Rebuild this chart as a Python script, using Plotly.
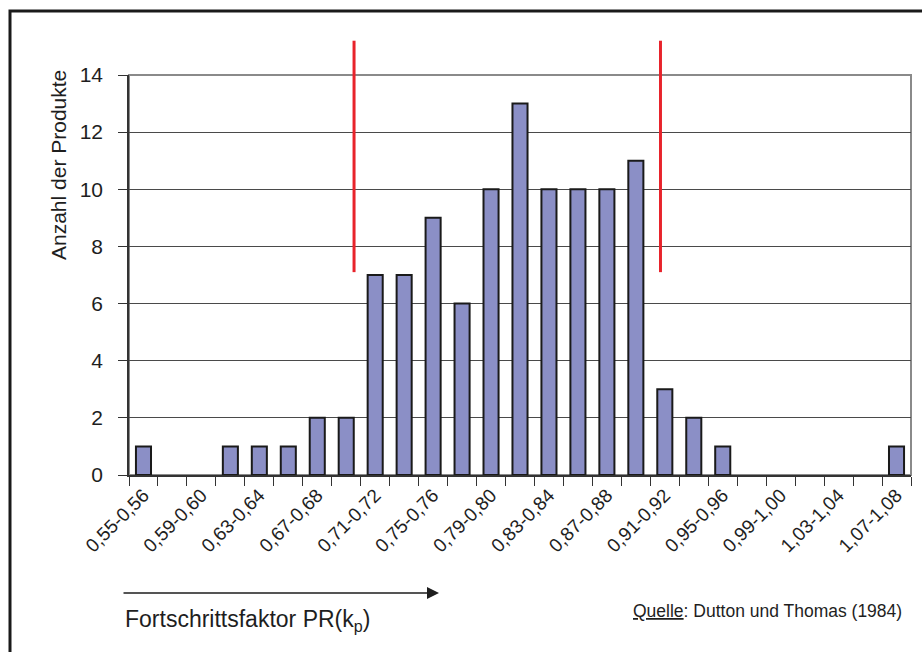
import plotly.graph_objects as go

categories = ["0,55-0,56", "0,57-0,58", "0,59-0,60", "0,61-0,62", "0,63-0,64", "0,65-0,66",
              "0,67-0,68", "0,69-0,70", "0,71-0,72", "0,73-0,74", "0,75-0,76", "0,77-0,78",
              "0,79-0,80", "0,81-0,82", "0,83-0,84", "0,85-0,86", "0,87-0,88", "0,89-0,90",
              "0,91-0,92", "0,93-0,94", "0,95-0,96", "0,97-0,98", "0,99-1,00", "1,01-1,02",
              "1,03-1,04", "1,05-1,06", "1,07-1,08"]
counts = [1, 0, 0, 1, 1, 1, 2, 2, 7, 7, 9, 6, 10, 13, 10, 10, 10, 11, 3, 2, 1, 0, 0, 0, 0, 0, 1]
tick_labels = [c if i % 2 == 0 else "" for i, c in enumerate(categories)]
y_ticks = [0, 2, 4, 6, 8, 10, 12, 14]
# red marker lines, in category units (bar centres at 0..26), and their vertical extent
red_lines_x = [7.27, 17.85]
red_lines_y = [7.1, 15.2]

W, H = 922, 652
ML, MR, MT, MB = 129, 11, 75, 177
PW, PH = W - ML - MR, H - MT - MB
YMAX = 14
n = len(categories)


def px_x(px):  # window pixel -> paper x
    return (px - ML) / PW


def px_y(py):  # window pixel -> paper y
    return (H - MB - py) / PH


def cat_to_paper(x):
    return (x + 0.5) / n


FONT = "Liberation Sans, Arial, sans-serif"
TXT = "#1e1e1e"

fig = go.Figure()
fig.add_trace(go.Bar(
    x=categories, y=counts, width=0.52,
    marker=dict(color="#8B8FC6",
                line=dict(color="#1a1a1a", width=[2 if v > 0 else 0 for v in counts])),
    hoverinfo="x+y",
))

shapes = []
# plot-area frame (top/right grey)
shapes.append(dict(type="rect", xref="paper", yref="paper", x0=0, x1=1, y0=0, y1=1,
                   line=dict(color="#8a8a8a", width=2), layer="below"))
# outer frame (left/top visible; right/bottom cropped)
shapes.append(dict(type="rect", xref="paper", yref="paper",
                   x0=px_x(10), x1=px_x(960), y0=px_y(690), y1=px_y(11),
                   line=dict(color="#1a1a1a", width=3), layer="above"))
for xv in red_lines_x:
    xp = cat_to_paper(xv)
    shapes.append(dict(type="line", xref="paper", yref="paper",
                       x0=xp, x1=xp, y0=red_lines_y[0] / YMAX, y1=red_lines_y[1] / YMAX,
                       line=dict(color="#E8232B", width=3), layer="above"))

annotations = [
    dict(xref="paper", yref="paper", x=px_x(58), y=px_y(165), text="Anzahl der Produkte",
         textangle=-90, showarrow=False, font=dict(family=FONT, size=21, color=TXT),
         xanchor="center", yanchor="middle"),
    dict(xref="paper", yref="paper", x=px_x(439), y=px_y(593), ax=-317, ay=0,
         axref="pixel", ayref="pixel", text="", showarrow=True, arrowhead=2,
         arrowsize=1.6, arrowwidth=1.5, arrowcolor="#1e1e1e"),
    dict(xref="paper", yref="paper", x=px_x(123), y=px_y(620),
         text="Fortschrittsfaktor PR(k<sub>p</sub>)", showarrow=False,
         font=dict(family=FONT, size=23, color=TXT), xanchor="left", yanchor="middle"),
    dict(xref="paper", yref="paper", x=px_x(904), y=px_y(611),
         text="<u>Quelle</u>: Dutton und Thomas (1984)", showarrow=False,
         font=dict(family=FONT, size=17.5, color=TXT), xanchor="right", yanchor="middle"),
]

fig.update_layout(
    width=W, height=H,
    margin=dict(l=ML, r=MR, t=MT, b=MB, pad=0),
    paper_bgcolor="white", plot_bgcolor="white",
    showlegend=False,
    shapes=shapes, annotations=annotations,
    font=dict(family=FONT, color=TXT),
    xaxis=dict(
        type="category", categoryorder="array", categoryarray=categories,
        range=[-0.5, n - 0.5],
        tickmode="array", tickvals=categories, ticktext=tick_labels,
        tickangle=-45, tickson="boundaries", ticks="outside", ticklen=9,
        tickcolor="#333", tickwidth=1.2,
        tickfont=dict(family=FONT, size=19, color=TXT),
        showline=True, linecolor="#333", linewidth=1.5,
        showgrid=False, zeroline=False, fixedrange=True,
    ),
    yaxis=dict(
        range=[0, YMAX], tickmode="array", tickvals=y_ticks,
        ticks="outside", ticklen=9, tickcolor="#333", tickwidth=1.2,
        ticklabelstandoff=11,
        tickfont=dict(family=FONT, size=21, color=TXT),
        showline=True, linecolor="#333", linewidth=1.5,
        showgrid=True, gridcolor="#4a4a4a", gridwidth=1,
        zeroline=False, fixedrange=True,
    ),
)

fig.write_html(
    "out.html",
    config={"displayModeBar": False},
    post_script="document.body.style.margin='0';document.body.style.overflow='hidden';",
)
